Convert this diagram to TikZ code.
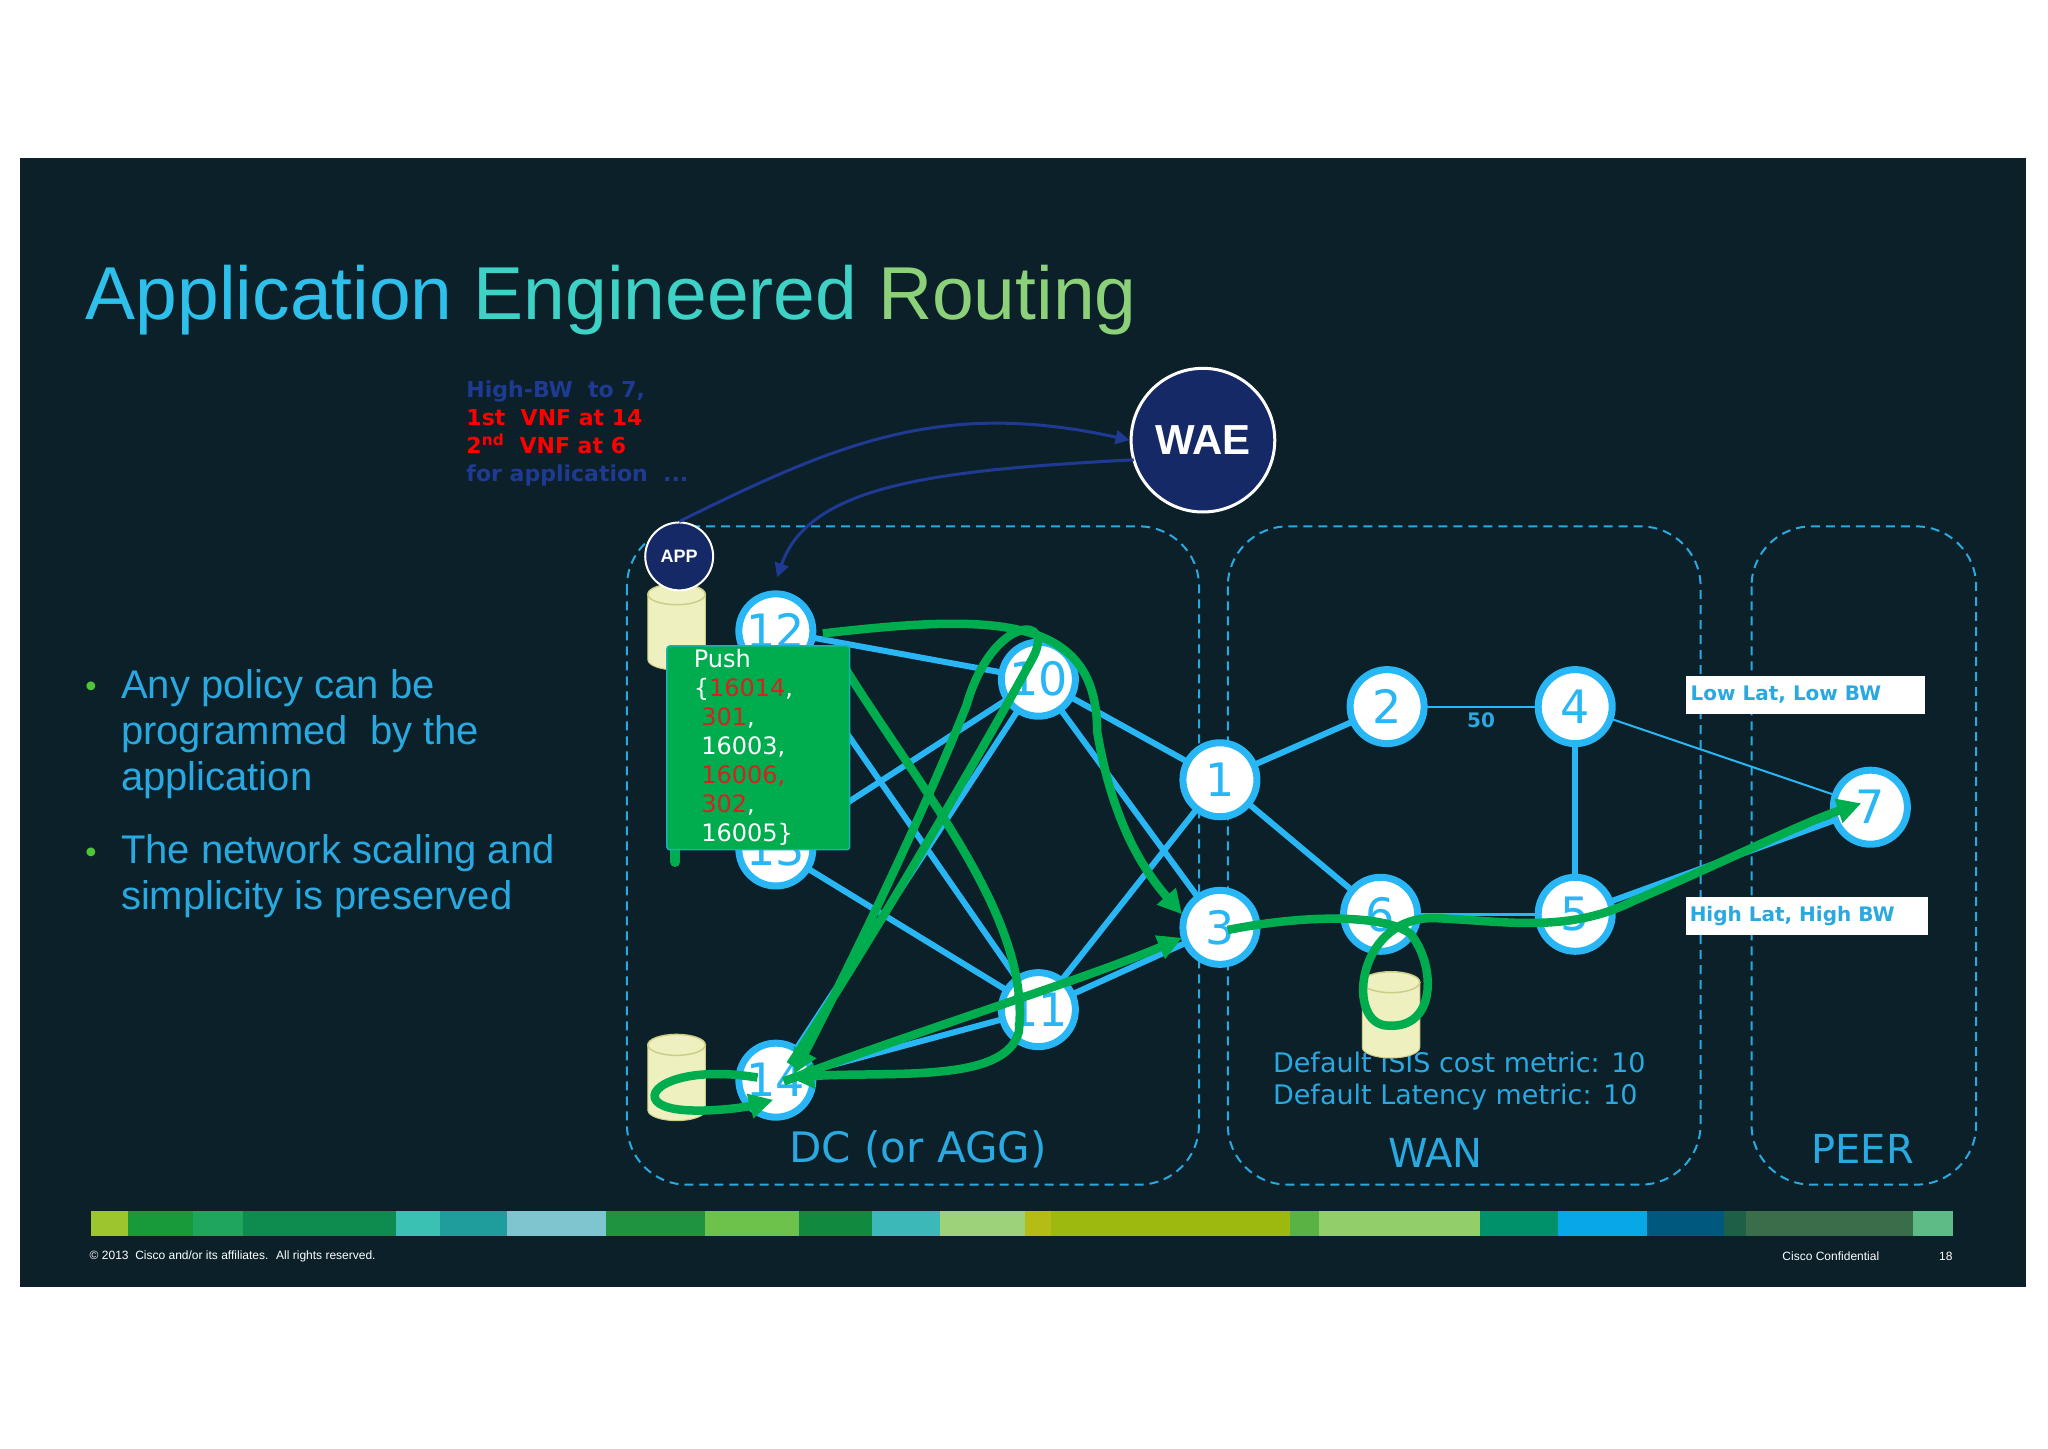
\documentclass[tikz,border=0pt]{standalone}
\usepackage{fontspec}
\setmainfont{DejaVu Sans}
\newfontfamily\arialf{Liberation Sans}
\usetikzlibrary{arrows.meta,shapes.geometric}
\definecolor{bg}{HTML}{0B2029}
\definecolor{eb}{HTML}{29B6F4}
\definecolor{gr}{HTML}{00AD4E}
\definecolor{db}{HTML}{1F3A93}
\definecolor{lb}{HTML}{2AA8E0}
\definecolor{cyl}{HTML}{EEF0C0}
\newcommand{\fs}[1]{\fontsize{#1}{#1}\selectfont}
\begin{document}
\begin{tikzpicture}[x=1.306pt,y=-1.306pt,
 rt/.style={circle,draw=eb,line width=7pt,fill=white,minimum size=74pt,inner sep=0pt,text=eb,font=\fs{46}},
 ln/.style={draw=eb,line width=6pt},
 thin/.style={draw=eb,line width=2pt},
 gp/.style={draw=gr,line width=8.5pt,-{Triangle[length=24pt,width=24pt]}},
 zone/.style={draw=lb,line width=2pt,rounded corners=60pt,dash pattern=on 9pt off 6pt},
 wa/.style={draw=db,line width=3pt,-{Triangle[length=14pt,width=14pt]}}]
\useasboundingbox (0,0) rectangle (1568,1108.7);
\fill[white] (0,0) rectangle (1568,1108.7);
\fill[bg] (15,121) rectangle (1551,985);
\node[anchor=west,font=\arialf\fs{75}] (title) at (63,230) {\textcolor[HTML]{2EC0EA}{Application} \textcolor[HTML]{3ED2C6}{Engineered} \textcolor[HTML]{8CD07A}{Routing}};
% bullets
\node[anchor=north west,align=left,text=lb,font=\arialf\fs{40}] (b1) at (90,510) {Any policy can be\\[6pt]programmed~ by the\\[6pt]application};
\node[anchor=north west,align=left,text=lb,font=\arialf\fs{40}] (b2) at (90,636) {The network scaling and\\[6pt]simplicity is preserved};
\node[text=gr!70!yellow,font=\fs{30}] (d1) at (70,528) {•};
\node[text=gr!70!yellow,font=\fs{30}] (d2) at (70,655) {•};
% zones
\draw[zone] (480,403) rectangle (918,907);
\draw[zone] (940,403) rectangle (1302,907);
\draw[zone] (1341,403) rectangle (1513,907);
\node[text=lb,font=\fs{42}] (zdc) at (703,880) {DC (or AGG)};
\node[text=lb,font=\fs{40}] (zwan) at (1099,883) {WAN};
\node[text=lb,font=\fs{40}] (zpeer) at (1426,880) {PEER};
\node[anchor=west,align=left,text=lb,font=\fs{27}] (def) at (972,828) {Default ISIS cost metric: 10\\[5pt]Default Latency metric: 10};
% cylinders
\foreach \n/\x/\y in {c1/518/455,c2/518/800,c3/1065/752}{
 \fill[cyl,draw=cyl!70!olive,line width=1pt] (\x-22,\y) -- (\x-22,\y+50) arc[start angle=180,end angle=0,x radius=22,y radius=8] -- (\x+22,\y) ;
 \draw[cyl!70!olive,fill=cyl,line width=1.5pt] (\x,\y) ellipse[x radius=22,y radius=8];
 \coordinate (\n) at (\x,\y+25);
}
% router positions
\foreach \n/\x/\y in {n12/594/483,n13/594/650,n14/594/827,n10/795/520,n11/795/773,n1/934/597,n3/934/710,n2/1062/541,n4/1206/541,n6/1057/700,n5/1206/700,n7/1432/618}
 \coordinate (\n) at (\x,\y);
\foreach \a/\b in {n12/n10,n12/n11,n13/n10,n13/n11,n14/n10,n14/n11,n10/n1,n10/n3,n11/n1,n11/n3,n1/n2,n1/n6,n4/n5,n3/n6}
 \draw[ln] (\a) -- (\b);
\draw[thin] (n2) -- node[below,font=\bfseries\fs{20},text=lb,yshift=-2pt] (l50) {50} (n4);
\draw[thin,line width=3pt] (n6) -- (n5);
\draw[thin] (n4) -- (n7);
\draw[ln] (n5) -- (n7);
\foreach \n/\x/\y/\t in {n12/594/483/12,n13/594/650/13,n14/594/827/14,n10/795/520/10,n11/795/773/11,n1/934/597/1,n3/934/710/3,n2/1062/541/2,n4/1206/541/4,n6/1057/700/6,n5/1206/700/5,n7/1432/618/7}
 \node[rt] (r\n) at (\x,\y) {\t};
% label boxes
\node[fill=white,minimum width=183*1.306pt,minimum height=29*1.306pt,anchor=west,text=lb,font=\bfseries\fs{20}] (low) at (1291,532) {Low Lat, Low BW\hspace*{40pt}};
\node[fill=white,minimum width=183*1.306pt,minimum height=29*1.306pt,anchor=west,text=lb,font=\bfseries\fs{20}] (high) at (1291,701) {High Lat, High BW\hspace*{30pt}};
% green paths
\draw[gp] (580,825) .. controls (520,815) and (490,835) .. (505,845) .. controls (520,855) and (570,848) .. (592,842);
\draw[gp] (605,815) .. controls (680,700) and (760,560) .. (790,505) .. controls (810,470) and (760,470) .. (740,540) .. controls (700,640) and (640,760) .. (608,822);
\draw[gp] (630,485) .. controls (760,470) and (840,470) .. (840,560) .. controls (850,620) and (870,660) .. (905,700);
\draw[gp] (640,500) .. controls (700,600) and (790,700) .. (780,790) .. controls (770,830) and (680,820) .. (605,825);
\draw[gp] (600,828) .. controls (700,790) and (830,750) .. (905,718);
\draw[gp] (940,712) .. controls (1000,700) and (1060,700) .. (1080,715) .. controls (1100,740) and (1100,790) .. (1060,785) .. controls (1030,780) and (1040,700) .. (1100,703) .. controls (1150,705) and (1200,715) .. (1250,690) .. controls (1320,660) and (1380,630) .. (1425,615);
% push box
\draw[gr,line width=10pt,line cap=round] (517,503) -- (517,660);
\node[fill=gr,draw=eb!60!gr,line width=1.5pt,rounded corners=3pt,minimum width=140*1.306pt,minimum height=156*1.306pt,anchor=north west] (push) at (510,494) {};
\node[anchor=north west,align=left,font=\fs{24},text=white,inner sep=0pt] (pusht) at (531,497) {Push\\[5pt]\{\textcolor[HTML]{D8211F}{16014},\\[5pt]\ \textcolor[HTML]{D8211F}{301},\\[5pt]\ 16003,\\[5pt]\ \textcolor[HTML]{D8211F}{16006,}\\[5pt]\ \textcolor[HTML]{D8211F}{302},\\[5pt]\ 16005\}};
% WAE / APP
\node[circle,draw=white,line width=3pt,fill=db!70!black,minimum size=110*1.306pt,text=white,font=\arialf\bfseries\fs{42}] (wae) at (921,337) {WAE};
\node[circle,draw=white,line width=2pt,fill=db!70!black,minimum size=52*1.306pt,text=white,font=\arialf\bfseries\fs{18}] (app) at (520,426) {APP};
\coordinate (wae2) at (868,352);
\coordinate (tgt) at (595,442);
\draw[wa] (app.north) .. controls (640,340) and (720,305) .. (wae.west);
\draw[wa] (wae2) .. controls (720,360) and (620,370) .. (tgt);
\node[anchor=north west,align=left,font=\bfseries\fs{22},inner sep=0pt] (req) at (357,291) {\textcolor{db}{High-BW~ to 7,}\\[6pt]\textcolor{red}{1st~ VNF at 14}\\[6pt]\textcolor{red}{2\textsuperscript{nd}~ VNF at 6}\\[6pt]\textcolor{db}{for application~ ...}};
% colour bar
\foreach \a/\b/\c in {70/98/9DC62E,98/148/199A3A,148/186/1FA55C,186/303/0E8C4F,303/337/3BC1B4,337/388/1F9C9C,388/464/7EC5CF,464/540/20933F,540/612/6CC24A,612/668/11893F,668/720/3CB8B8,720/785/9ED27A,785/805/B6BC16,805/988/9DB80E,988/1010/5BB244,1010/1133/93CF69,1133/1193/00916A,1193/1261/06A9E6,1261/1320/00587E,1320/1337/1D5F47,1337/1465/3A6E4A,1465/1495/5EBB86}
 {\definecolor{tmp}{HTML}{\c}\fill[tmp] (\a,927) rectangle (\b,946);}
\node[anchor=west,text=white,font=\arialf\fs{12}] (f1) at (66,962) {© 2013~ Cisco and/or its affiliates.~ All rights reserved.};
\node[anchor=west,text=white,font=\arialf\fs{12}] (f2) at (1362,962) {Cisco Confidential};
\node[anchor=west,text=white,font=\arialf\fs{12}] (f3) at (1482,962) {18};
\end{tikzpicture}
\end{document}
